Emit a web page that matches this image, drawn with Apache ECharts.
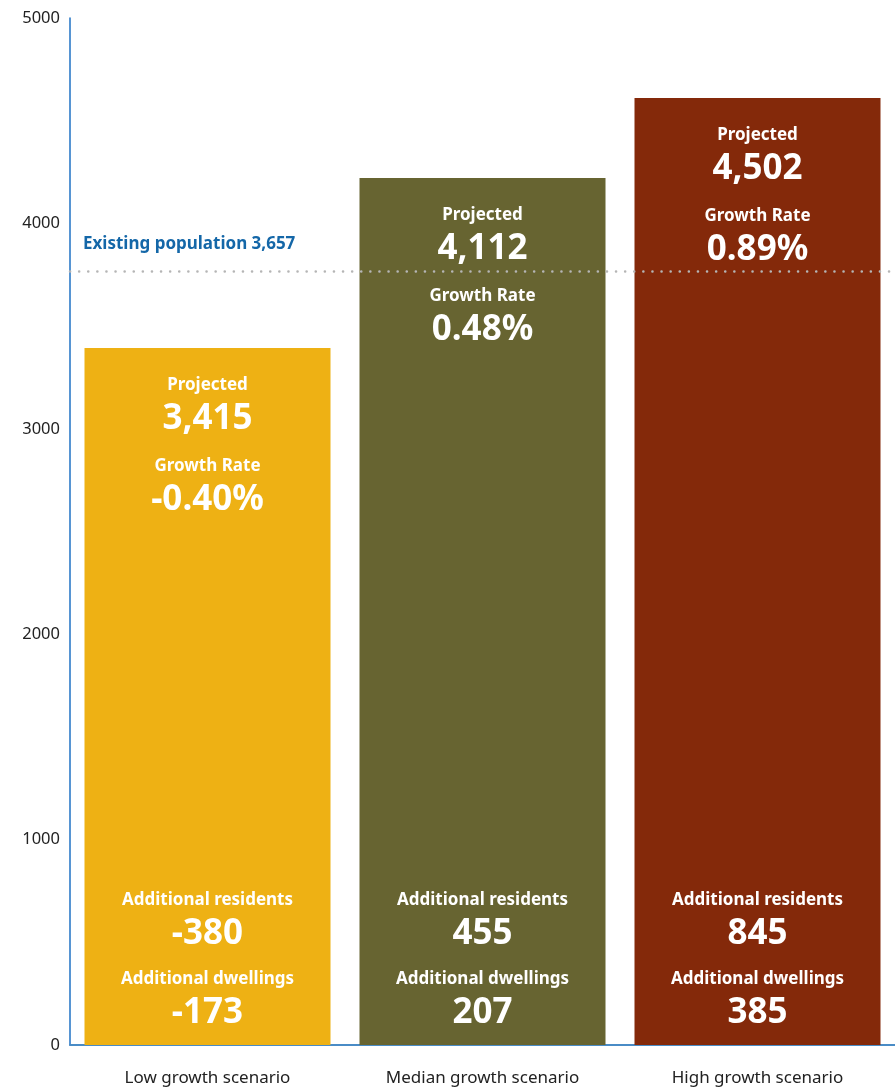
<!DOCTYPE html>
<html>
<head>
<meta charset="utf-8">
<script src="https://cdn.jsdelivr.net/npm/echarts@6/dist/echarts.min.js"></script>
<style>
html,body{margin:0;padding:0;background:#fff;}
#chart{width:895px;height:1087px;}
</style>
</head>
<body>
<div id="chart"></div>
<script>
// Data
const categories = ['Low growth scenario', 'Median growth scenario', 'High growth scenario'];
const barHeights = [3393, 4221, 4611];          // bar tops as drawn on the axis
const projected = ['3,415', '4,112', '4,502'];
const growthRate = ['-0.40%', '0.48%', '0.89%'];
const additionalResidents = ['-380', '455', '845'];
const additionalDwellings = ['-173', '207', '385'];
const existingLineValue = 3765;                  // dotted line as drawn on the axis
const existingLabel = 'Existing population 3,657';
const yTicks = [0, 1000, 2000, 3000, 4000, 5000];
const barColors = ['#EEB114', '#676431', '#84290A'];

const FONT = '"Noto Sans", sans-serif';
const chart = echarts.init(document.getElementById('chart'), null, {renderer: 'canvas'});

const richStyles = {
  t: {fontFamily: FONT, fontWeight: 'bold', fontSize: 17, color: '#fff', lineHeight: 24, align: 'center'},
  v: {fontFamily: FONT, fontWeight: 'bold', fontSize: 35, color: '#fff', lineHeight: 44, align: 'center'},
  s: {fontSize: 1, lineHeight: 13},
  s2: {fontSize: 1, lineHeight: 11}
};

const option = {
  animation: false,
  backgroundColor: '#fff',
  grid: {left: 70, right: 0, top: 18, bottom: 42, containLabel: false},
  xAxis: {
    type: 'category',
    data: categories,
    axisLine: {show: true, lineStyle: {color: '#4a8cc6', width: 2}},
    axisTick: {show: false},
    axisLabel: {fontFamily: FONT, fontSize: 17, color: '#222', margin: 25}
  },
  yAxis: {
    type: 'value',
    min: yTicks[0],
    max: yTicks[yTicks.length - 1],
    interval: 1000,
    axisLine: {show: true, lineStyle: {color: '#1f72c4', width: 1.5}},
    axisTick: {show: false},
    splitLine: {show: false},
    axisLabel: {
      fontFamily: FONT, fontSize: 16.5, color: '#222', margin: 10,
      padding: [6, 0, 0, 0],
      formatter: (v) => String(v)
    }
  },
  series: [
    {
      type: 'bar',
      barWidth: 246,
      data: barHeights.map((v, i) => ({value: v, itemStyle: {color: barColors[i]}})),
      label: {
        show: true,
        position: 'insideTop',
        distance: 25,
        formatter: (p) => '{t|Projected}\n{v|' + projected[p.dataIndex] + '}\n{s| }\n{t|Growth Rate}\n{v|' + growthRate[p.dataIndex] + '}',
        rich: richStyles
      },
      markLine: {
        silent: true,
        symbol: 'none',
        lineStyle: {type: [0.1, 9], color: '#b5b5b5', width: 2.5, cap: 'round'},
        label: {
          show: true,
          position: 'insideStartTop',
          distance: [13, 19],
          formatter: existingLabel,
          fontFamily: FONT,
          fontWeight: 'bold',
          fontSize: 17,
          color: '#1467a8'
        },
        data: [{yAxis: existingLineValue}]
      },
      z: 2
    },
    {
      type: 'bar',
      barWidth: 246,
      barGap: '-100%',
      silent: true,
      data: barHeights,
      itemStyle: {color: 'rgba(0,0,0,0)'},
      label: {
        show: true,
        position: 'insideBottom',
        distance: 10,
        formatter: (p) => '{t|Additional residents}\n{v|' + additionalResidents[p.dataIndex] + '}\n{s2| }\n{t|Additional dwellings}\n{v|' + additionalDwellings[p.dataIndex] + '}',
        rich: richStyles
      },
      z: 3
    }
  ]
};
chart.setOption(option);
</script>
</body>
</html>
